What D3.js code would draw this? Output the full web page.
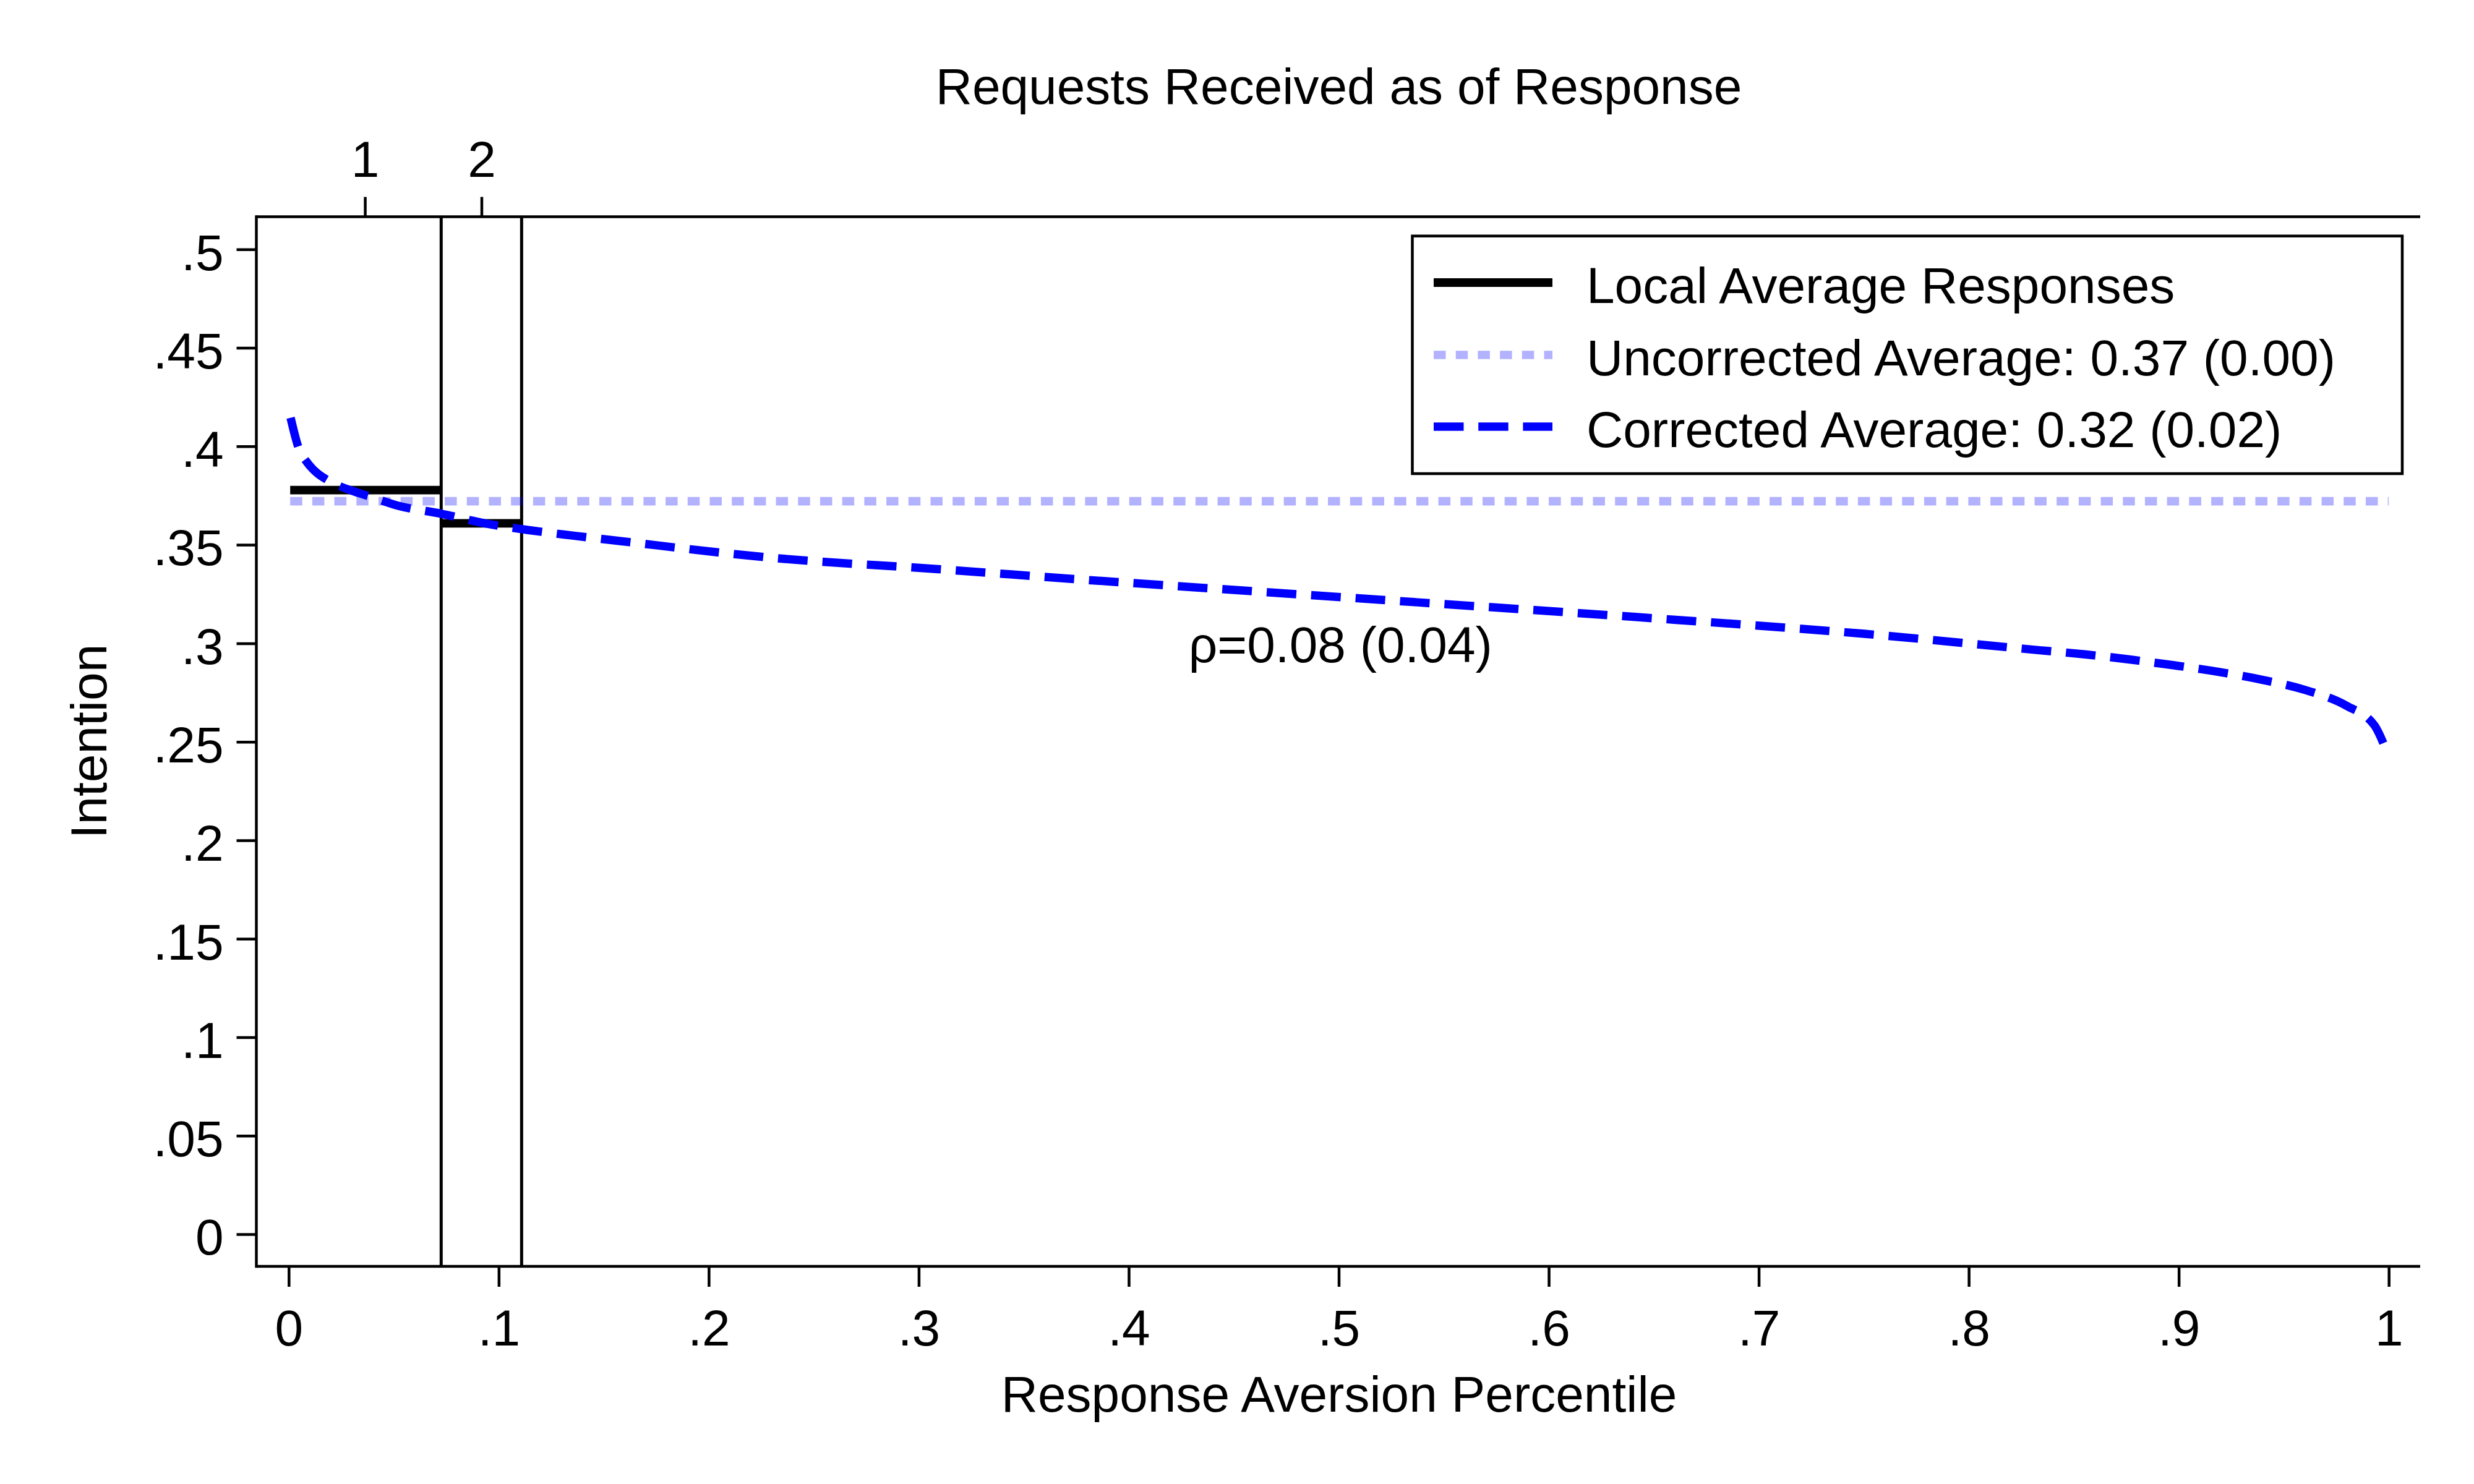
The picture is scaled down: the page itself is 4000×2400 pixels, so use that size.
<!DOCTYPE html>
<html>
<head>
<meta charset="utf-8">
<script src="https://cdn.jsdelivr.net/npm/d3@7"></script>
<style>
  html, body { margin: 0; padding: 0; background: #fff; }
  svg { display: block; }
  text { font-family: "Liberation Sans", Arial, sans-serif; fill: #000; }
</style>
</head>
<body>
<svg id="chart" width="4000" height="2400"></svg>
<script>
// ---------------- Data ----------------
const xTickValues = [0, 0.1, 0.2, 0.3, 0.4, 0.5, 0.6, 0.7, 0.8, 0.9, 1];
const xTickLabels = ["0", ".1", ".2", ".3", ".4", ".5", ".6", ".7", ".8", ".9", "1"];
const yTickValues = [0, 0.05, 0.1, 0.15, 0.2, 0.25, 0.3, 0.35, 0.4, 0.45, 0.5];
const yTickLabels = ["0", ".05", ".1", ".15", ".2", ".25", ".3", ".35", ".4", ".45", ".5"];

// Top axis: requests received (midpoints of the bins)
const topTickValues = [0.0363, 0.0918];
const topTickLabels = ["1", "2"];

// Bin boundaries (vertical lines)
const binBounds = [0.0726, 0.1109];

// Local average responses per bin
const localStart = [0.0007, 0.0726];
const localEnd   = [0.0726, 0.1109];
const localValue = [0.3778, 0.3609];

// Uncorrected average
const uncorrectedValue = 0.3721;
const uncorrectedRange = [0.0007, 1.0];

// Corrected curve
const curveX = [0.0009, 0.0029, 0.0046, 0.0085, 0.013, 0.0186, 0.0316, 0.0378, 0.0516, 0.0726,
                0.093, 0.1141, 0.1351, 0.157, 0.2322, 0.3072, 0.3823, 0.4319, 0.5376, 0.6433,
                0.7503, 0.8345, 0.856, 0.8771, 0.8979, 0.919, 0.9396, 0.9602, 0.980, 0.9932, 0.9983];
const curveY = [0.4145, 0.4058, 0.3995, 0.3922, 0.3869, 0.3828, 0.3769, 0.3748, 0.3700, 0.3658,
                0.3610, 0.3575, 0.3547, 0.3520, 0.3432, 0.3378, 0.3320, 0.3284, 0.3208, 0.3132,
                0.3048, 0.2964, 0.2943, 0.2917, 0.2888, 0.2855, 0.2815, 0.2763, 0.2682, 0.2583, 0.2470];

const legendLabels = ["Local Average Responses", "Uncorrected Average: 0.37 (0.00)", "Corrected Average: 0.32 (0.02)"];
const annotationText = "\u03C1=0.08 (0.04)";
const annotationPos = [0.4285, 0.2905];

const titleText = "Requests Received as of Response";
const xTitle = "Response Aversion Percentile";
const yTitle = "Intention";

// ---------------- Layout ----------------
const FONT = 82;
const axisLeftX = 414.5, axisRightX = 3913, axisTopY = 350.5, axisBottomY = 2048;
const BLUE = "#0000ff";

const svg = d3.select("#chart");

const x = d3.scaleLinear().domain([0, 1]).range([466.8, 3862.2]);
const y = d3.scaleLinear().domain([0, 0.5]).range([1996, 403.3]);

// ---------------- Axes ----------------
const gx = svg.append("g").attr("transform", `translate(0,${axisBottomY})`)
  .call(d3.axisBottom(x).tickValues(xTickValues)
    .tickFormat((d, i) => xTickLabels[i]).tickSize(33).tickPadding(37));
const gy = svg.append("g").attr("transform", `translate(${axisLeftX},0)`)
  .call(d3.axisLeft(y).tickValues(yTickValues)
    .tickFormat((d, i) => yTickLabels[i]).tickSize(32).tickPadding(21));
const gt = svg.append("g").attr("transform", `translate(0,${axisTopY})`)
  .call(d3.axisTop(x).tickValues(topTickValues)
    .tickFormat((d, i) => topTickLabels[i]).tickSize(32).tickPadding(33));

[gx, gy, gt].forEach(g => {
  g.select(".domain").remove();
  g.selectAll(".tick line").attr("stroke", "#000").attr("stroke-width", 4.5);
  g.selectAll(".tick text").attr("font-size", FONT).attr("fill", "#000")
    .style("font-family", '"Liberation Sans", Arial, sans-serif');
});
gy.selectAll(".tick text").attr("dy", "0.40em");

// axis lines
svg.append("line").attr("x1", axisLeftX).attr("x2", axisRightX)
  .attr("y1", axisBottomY).attr("y2", axisBottomY).attr("stroke", "#000").attr("stroke-width", 4.5);
svg.append("line").attr("x1", axisLeftX).attr("x2", axisRightX)
  .attr("y1", axisTopY).attr("y2", axisTopY).attr("stroke", "#000").attr("stroke-width", 4.5);
svg.append("line").attr("x1", axisLeftX).attr("x2", axisLeftX)
  .attr("y1", axisTopY - 2.25).attr("y2", axisBottomY + 2.25).attr("stroke", "#000").attr("stroke-width", 4.5);

// ---------------- Marks ----------------
svg.append("g").selectAll("line").data(binBounds).join("line")
  .attr("x1", d => x(d)).attr("x2", d => x(d))
  .attr("y1", axisTopY).attr("y2", axisBottomY)
  .attr("stroke", "#000").attr("stroke-width", 5);

svg.append("g").selectAll("line").data(localValue).join("line")
  .attr("x1", (d, i) => x(localStart[i])).attr("x2", (d, i) => x(localEnd[i]))
  .attr("y1", d => y(d)).attr("y2", d => y(d))
  .attr("stroke", "#000").attr("stroke-width", 13.7);

svg.append("line")
  .attr("x1", x(uncorrectedRange[0])).attr("x2", x(uncorrectedRange[1]))
  .attr("y1", y(uncorrectedValue)).attr("y2", y(uncorrectedValue))
  .attr("stroke", BLUE).attr("stroke-opacity", 0.3)
  .attr("stroke-width", 13.7).attr("stroke-dasharray", "19.5,16.2");

const curveData = curveX.map((v, i) => [v, curveY[i]]);
svg.append("path").datum(curveData)
  .attr("d", d3.line().x(d => x(d[0])).y(d => y(d[1])).curve(d3.curveMonotoneX))
  .attr("fill", "none").attr("stroke", BLUE).attr("stroke-width", 13.5)
  .attr("stroke-dasharray", "48,24");

svg.append("text").attr("x", x(annotationPos[0])).attr("y", y(annotationPos[1]))
  .attr("font-size", FONT).text(annotationText);

// ---------------- Titles ----------------
svg.append("text").attr("x", 2164.5).attr("y", 168).attr("text-anchor", "middle")
  .attr("font-size", FONT).text(titleText);
svg.append("text").attr("x", 2165).attr("y", 2283).attr("text-anchor", "middle")
  .attr("font-size", FONT).text(xTitle);
svg.append("text").attr("transform", "translate(172,1199) rotate(-90)")
  .attr("text-anchor", "middle").attr("font-size", FONT).text(yTitle);

// ---------------- Legend ----------------
const leg = svg.append("g");
leg.append("rect").attr("x", 2283.5).attr("y", 381.7).attr("width", 3884 - 2283.5).attr("height", 766 - 381.7)
  .attr("fill", "#fff").attr("stroke", "#000").attr("stroke-width", 4.5);
const legStyles = [
  { stroke: "#000", opacity: 1, dash: null, width: 14 },
  { stroke: BLUE, opacity: 0.3, dash: "19.5,16.2", width: 13.7 },
  { stroke: BLUE, opacity: 1, dash: "48.5,23.7", width: 13.5 }
];
const legLineY = [457, 574, 690];
const legTextY = [490, 606.7, 723.3];
legendLabels.forEach((lab, i) => {
  const s = legStyles[i];
  const ln = leg.append("line").attr("x1", 2318).attr("x2", 2510)
    .attr("y1", legLineY[i]).attr("y2", legLineY[i])
    .attr("stroke", s.stroke).attr("stroke-opacity", s.opacity).attr("stroke-width", s.width);
  if (s.dash) ln.attr("stroke-dasharray", s.dash);
  leg.append("text").attr("x", 2565).attr("y", legTextY[i]).attr("font-size", FONT).text(lab);
});
</script>
</body>
</html>
